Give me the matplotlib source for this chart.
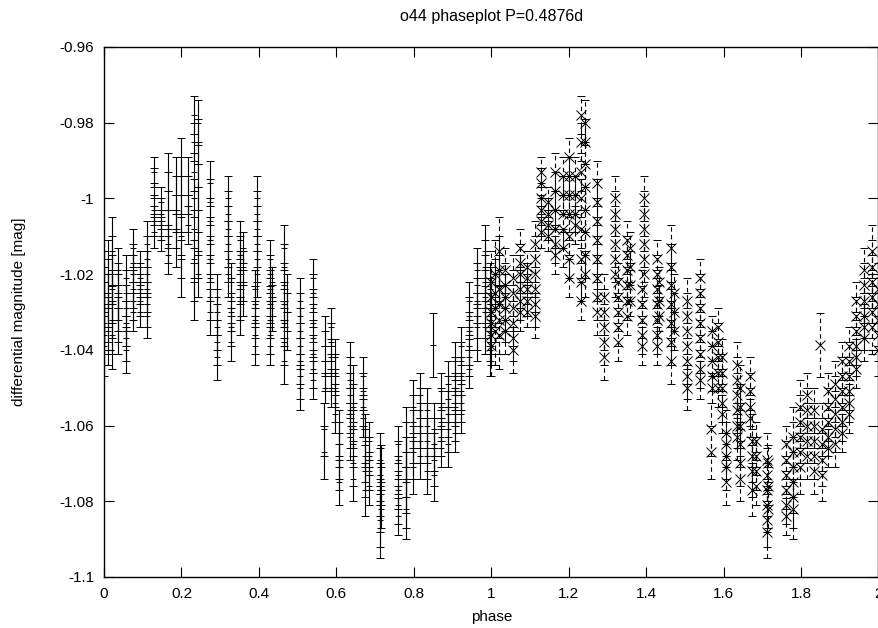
import numpy as np
import matplotlib
matplotlib.use('Agg')
import matplotlib.pyplot as plt
from matplotlib.ticker import FuncFormatter

plt.rcParams['font.family'] = ['Liberation Sans', 'DejaVu Sans']

# one group per observing run: phase, error bar, magnitudes
GROUP_PHASE = [0.000, 0.010, 0.020, 0.036, 0.057, 0.075, 0.093, 0.112, 0.129, 0.147,
               0.165, 0.186, 0.200, 0.217, 0.232, 0.242, 0.274, 0.291, 0.319, 0.327,
               0.351, 0.359, 0.394, 0.390, 0.428, 0.434, 0.465, 0.472, 0.506, 0.539,
               0.570, 0.568, 0.585, 0.596, 0.607, 0.635, 0.643, 0.669, 0.674, 0.684,
               0.712, 0.716, 0.760, 0.779, 0.797, 0.815, 0.833, 0.850, 0.853, 0.869,
               0.889, 0.906, 0.923, 0.943, 0.963, 0.983, 0.998]
GROUP_ERR = [0.008, 0.009, 0.009, 0.006, 0.006, 0.005, 0.004, 0.006, 0.004, 0.004,
             0.005, 0.005, 0.005, 0.005, 0.005, 0.006, 0.006, 0.006, 0.006, 0.005,
             0.005, 0.004, 0.006, 0.005, 0.005, 0.004, 0.006, 0.005, 0.006, 0.005,
             0.004, 0.007, 0.005, 0.005, 0.006, 0.006, 0.006, 0.005, 0.007, 0.005,
             0.007, 0.005, 0.005, 0.008, 0.007, 0.006, 0.006, 0.0085, 0.007, 0.005,
             0.006, 0.005, 0.005, 0.005, 0.006, 0.007, 0.007]
GROUP_MAGS = [
    [-1.022, -1.026, -1.030, -1.033, -1.036, -1.039],
    [-1.020, -1.025, -1.029, -1.035],
    [-1.014, -1.019, -1.024, -1.028, -1.032, -1.036],
    [-1.019, -1.023, -1.026, -1.029, -1.032, -1.035],
    [-1.021, -1.025, -1.029, -1.033, -1.037, -1.040],
    [-1.013, -1.017, -1.020, -1.024, -1.027, -1.030],
    [-1.018, -1.021, -1.024, -1.027, -1.030],
    [-1.012, -1.016, -1.020, -1.024, -1.028, -1.031],
    [-0.993, -0.996, -1.000, -1.003, -1.006, -1.009],
    [-1.001, -1.004, -1.007, -1.010],
    [-0.993, -0.998, -1.003, -1.008, -1.012, -1.015],
    [-0.994, -0.999, -1.004, -1.008, -1.013],
    [-0.989, -0.994, -0.999, -1.004, -1.010, -1.016, -1.021],
    [-0.994, -0.999, -1.004, -1.007],
    [-0.978, -0.985, -0.993, -1.000, -1.008, -1.016, -1.022, -1.027],
    [-0.980, -0.985, -0.991, -0.997, -1.003, -1.009, -1.015, -1.020],
    [-0.996, -1.001, -1.006, -1.011, -1.016, -1.021, -1.026, -1.030],
    [-1.026, -1.030, -1.034, -1.038, -1.042],
    [-1.000, -1.004, -1.008, -1.012, -1.016, -1.020],
    [-1.022, -1.026, -1.030, -1.034, -1.038],
    [-1.011, -1.015, -1.019, -1.023, -1.027, -1.031],
    [-1.013, -1.018, -1.023, -1.027],
    [-1.000, -1.004, -1.008, -1.012, -1.016, -1.020],
    [-1.024, -1.028, -1.032, -1.036, -1.039],
    [-1.016, -1.020, -1.024, -1.028, -1.032, -1.036, -1.039],
    [-1.022, -1.027, -1.031],
    [-1.013, -1.018, -1.023, -1.028, -1.033, -1.038, -1.043],
    [-1.025, -1.030, -1.035],
    [-1.027, -1.031, -1.035, -1.039, -1.043, -1.047, -1.050],
    [-1.021, -1.025, -1.029, -1.033, -1.037, -1.041, -1.045, -1.048],
    [-1.035, -1.039, -1.043, -1.047, -1.050],
    [-1.061, -1.067],
    [-1.034, -1.038, -1.042, -1.046, -1.050],
    [-1.042, -1.046, -1.050, -1.054, -1.057],
    [-1.062, -1.065, -1.068, -1.071, -1.075],
    [-1.044, -1.048, -1.052, -1.056, -1.060, -1.063],
    [-1.050, -1.055, -1.060, -1.065, -1.070, -1.074],
    [-1.047, -1.051, -1.055, -1.058],
    [-1.064, -1.068, -1.072, -1.077],
    [-1.064, -1.068, -1.072, -1.076],
    [-1.069, -1.073, -1.077, -1.081, -1.085, -1.088],
    [-1.070, -1.076, -1.082],
    [-1.065, -1.069, -1.073, -1.077, -1.081, -1.084],
    [-1.063, -1.067, -1.071, -1.075, -1.079, -1.082],
    [-1.055, -1.059, -1.063, -1.067, -1.071],
    [-1.052, -1.056, -1.060, -1.064, -1.068],
    [-1.056, -1.060, -1.064, -1.068, -1.072],
    [-1.0387],
    [-1.061, -1.065, -1.069, -1.073],
    [-1.051, -1.055, -1.059, -1.063, -1.066],
    [-1.049, -1.053, -1.057, -1.061, -1.065],
    [-1.043, -1.047, -1.051, -1.055, -1.059, -1.062],
    [-1.039, -1.043, -1.047, -1.051, -1.054, -1.057],
    [-1.027, -1.031, -1.035, -1.039, -1.042, -1.045],
    [-1.019, -1.023, -1.027, -1.031, -1.034, -1.037],
    [-1.014, -1.018, -1.022, -1.026, -1.030, -1.034],
    [-1.024, -1.028, -1.032, -1.036, -1.040],
]

XTICKS = [0, 0.2, 0.4, 0.6, 0.8, 1, 1.2, 1.4, 1.6, 1.8, 2]
YTICKS = [-1.1, -1.08, -1.06, -1.04, -1.02, -1, -0.98, -0.96]

phase = np.concatenate([[p] * len(m) for p, m in zip(GROUP_PHASE, GROUP_MAGS)])
err = np.concatenate([[e] * len(m) for e, m in zip(GROUP_ERR, GROUP_MAGS)])
mag = np.concatenate(GROUP_MAGS)

fig = plt.figure(figsize=(8.79, 6.28), dpi=100)
ax = fig.add_axes([104 / 879, 1 - 577 / 628, 775 / 879 - 0.0006, 530 / 628])

# first cycle: plus signs, solid bars
ax.errorbar(phase, mag, yerr=err, fmt='+', color='black', ms=5, mew=0.7,
            elinewidth=0.8, capsize=3, capthick=0.8)
# second cycle (phase + 1): crosses, dashed bars
eb = ax.errorbar(phase + 1, mag, yerr=err, fmt='x', color='black', ms=6.5, mew=0.7,
                 elinewidth=0.8, capsize=3, capthick=0.8)
eb[2][0].set_linestyle((0, (4, 3)))

ax.set_xlim(0, 2)
ax.set_ylim(-1.1, -0.96)
ax.set_xticks(XTICKS)
ax.set_yticks(YTICKS)
fmt = FuncFormatter(lambda v, pos: '%g' % round(v, 3))
ax.xaxis.set_major_formatter(fmt)
ax.yaxis.set_major_formatter(fmt)
ax.tick_params(direction='in', top=True, right=True, length=7, width=0.8,
               labelsize=11, pad=7)
for s in ax.spines.values():
    s.set_linewidth(1.0)

ax.set_title('o44 phaseplot P=0.4876d', fontsize=11.5, pad=19)
ax.set_xlabel('phase', fontsize=11)
ax.set_ylabel('differential magnitude [mag]', fontsize=11)
ax.xaxis.set_label_coords(0.5, -0.062)
ax.yaxis.set_label_coords(-0.101, 0.5)

fig.savefig('out.png', dpi=100)
